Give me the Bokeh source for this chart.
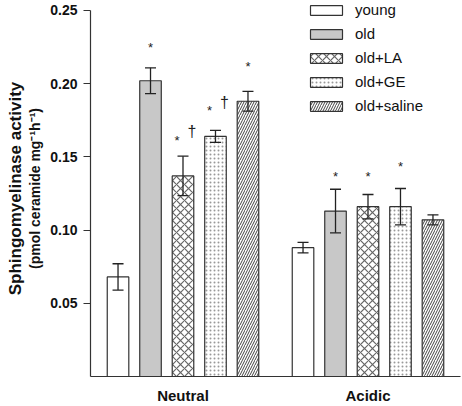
from bokeh.plotting import figure
from bokeh.models import (FactorRange, Range1d, ColumnDataSource, FixedTicker,
                          Legend, LegendItem, LinearAxis, CustomJSTickFormatter)
from bokeh.transform import dodge
from bokeh.core.properties import value
from bokeh.embed import file_html
from bokeh.resources import INLINE

# ---------------- data ----------------
groups = ["Neutral", "Acidic"]
series = ["young", "old", "old+LA", "old+GE", "old+saline"]

young = [0.068, 0.088]
old = [0.202, 0.113]
old_la = [0.137, 0.116]
old_ge = [0.164, 0.116]
old_saline = [0.188, 0.107]

young_err = [0.0090, 0.0036]
old_err = [0.0088, 0.0149]
old_la_err = [0.0135, 0.0083]
old_ge_err = [0.0041, 0.0124]
old_saline_err = [0.0068, 0.0034]

y_ticks = [0.05, 0.10, 0.15, 0.20, 0.25]

mark_group = ["Neutral", "Neutral", "Neutral", "Neutral", "Neutral", "Neutral",
              "Acidic", "Acidic", "Acidic"]
mark_series = ["old", "old+LA", "old+LA", "old+GE", "old+GE", "old+saline",
               "old", "old+LA", "old+GE"]
mark_text = ["*", "*", "\u2020", "*", "\u2020", "*", "*", "*", "*"]
mark_y = [0.2268, 0.1635, 0.1673, 0.1836, 0.1873, 0.2139, 0.1387, 0.1389, 0.1455]

values_by_series = [young, old, old_la, old_ge, old_saline]
errs_by_series = [young_err, old_err, old_la_err, old_ge_err, old_saline_err]

# ---------------- styles ----------------
FONT = "Liberation Sans"
OUTLINE = "#333333"
INK = "#111111"
step = 0.1756
bar_w = 0.1165
offsets = [(i - 2) * step for i in range(5)]
styles = [
    dict(fill_color="white"),
    dict(fill_color="#c8c8c8"),
    dict(fill_color="white", hatch_pattern="x", hatch_scale=8, hatch_color="#666666", hatch_weight=1.2),
    dict(fill_color="white", hatch_pattern=".", hatch_scale=4, hatch_color="#999999", hatch_weight=1.0),
    dict(fill_color="white", hatch_pattern="/", hatch_scale=5, hatch_color="#444444", hatch_weight=1.0),
]

# frame reaches the top edge; axis line is bounded to 0..0.25
p = figure(width=462, height=406, output_backend="svg", toolbar_location=None,
           x_range=FactorRange(factors=groups, range_padding=0),
           y_range=Range1d(0, 0.2568),
           min_border_left=90, min_border_right=2, min_border_top=0, min_border_bottom=27)
p.outline_line_color = None
p.xgrid.grid_line_color = None
p.ygrid.grid_line_color = None
p.background_fill_color = "white"
p.border_fill_color = "white"

legend_items = []
for i, name in enumerate(series):
    vals = values_by_series[i]
    errs = errs_by_series[i]
    src = ColumnDataSource(dict(
        group=groups, top=vals,
        upper=[v + e for v, e in zip(vals, errs)],
        lower=[v - e for v, e in zip(vals, errs)],
    ))
    xs = dodge("group", offsets[i], range=p.x_range)
    r = p.vbar(x=xs, top="top", width=bar_w, source=src,
               line_color=OUTLINE, line_width=1.2, **styles[i])
    legend_items.append(LegendItem(label=name, renderers=[r]))
    p.segment(x0=xs, y0="lower", x1=xs, y1="upper", source=src,
              line_color="#222222", line_width=1.3)
    p.scatter(x=xs, y="upper", marker="dash", size=11, source=src,
              line_color="#222222", line_width=1.3)
    p.scatter(x=xs, y="lower", marker="dash", size=11, source=src,
              line_color="#222222", line_width=1.3)

    # significance marks
    idx = [k for k, s in enumerate(mark_series) if s == name]
    if idx:
        mg = [mark_group[k] for k in idx]
        mt = [mark_text[k] for k in idx]
        my = [mark_y[k] for k in idx]
        xo, yo, fs = [], [], []
        for k in idx:
            pair = sum(1 for j in range(len(mark_series))
                       if mark_series[j] == name and mark_group[j] == mark_group[k]) > 1
            if mark_text[k] == "*":
                xo.append(-6 if pair else 0)
                yo.append(3)
                fs.append("13px")
            else:
                xo.append(9)
                yo.append(0)
                fs.append("16px")
        msrc = ColumnDataSource(dict(group=mg, text=mt, y=my, xo=xo, yo=yo, fs=fs))
        p.text(x=dodge("group", offsets[i], range=p.x_range), y="y", text="text",
               x_offset="xo", y_offset="yo", text_font_size="fs", source=msrc,
               text_align="center", text_baseline="middle",
               text_font=value(FONT), text_color="#222222")

# y axis with second title line
yax = p.yaxis[0]
yax.ticker = FixedTicker(ticks=y_ticks)
yax.bounds = (0, 0.25)
yax.formatter = CustomJSTickFormatter(code="return tick.toFixed(2);")
yax.major_tick_out = 7
yax.major_tick_in = 0
yax.minor_tick_line_color = None
yax.minor_tick_out = 0
yax.axis_line_color = OUTLINE
yax.axis_line_width = 1.2
yax.major_tick_line_color = OUTLINE
yax.major_tick_line_width = 1.2
yax.major_label_text_font = FONT
yax.major_label_text_font_style = "bold"
yax.major_label_text_font_size = "14px"
yax.major_label_text_color = INK
yax.major_label_standoff = 6
yax.axis_label = "(pmol ceramide mg\u207b\u00b9h\u207b\u00b9)"
yax.axis_label_text_font = FONT
yax.axis_label_text_font_style = "bold"
yax.axis_label_text_font_size = "14px"
yax.axis_label_text_color = INK
yax.axis_label_standoff = 4

# outer axis carrying the first title line
ttl = LinearAxis(ticker=FixedTicker(ticks=[]), axis_line_color=None,
                 major_tick_line_color=None, minor_tick_line_color=None,
                 major_tick_out=0, minor_tick_out=0, major_label_standoff=0,
                 major_label_text_font_size="0px",
                 axis_label="Sphingomyelinase activity",
                 axis_label_text_font=FONT, axis_label_text_font_style="bold",
                 axis_label_text_font_size="17px", axis_label_text_color=INK,
                 axis_label_standoff=0)
p.add_layout(ttl, "left")

xax = p.xaxis[0]
xax.major_tick_line_color = None
xax.major_tick_out = 0
xax.minor_tick_line_color = None
xax.axis_line_color = OUTLINE
xax.axis_line_width = 1.2
xax.major_label_text_font = FONT
xax.major_label_text_font_style = "bold"
xax.major_label_text_font_size = "15px"
xax.major_label_text_color = INK
xax.major_label_standoff = 10

legend = Legend(items=legend_items, location=(216, 262),
                glyph_width=40, glyph_height=12, label_height=12,
                spacing=7, padding=0, margin=0, label_standoff=9,
                label_text_font=FONT, label_text_font_size="15px",
                label_text_color=INK,
                border_line_color=None, background_fill_alpha=0)
p.add_layout(legend)

open("out.html", "w").write(file_html(p, INLINE))
